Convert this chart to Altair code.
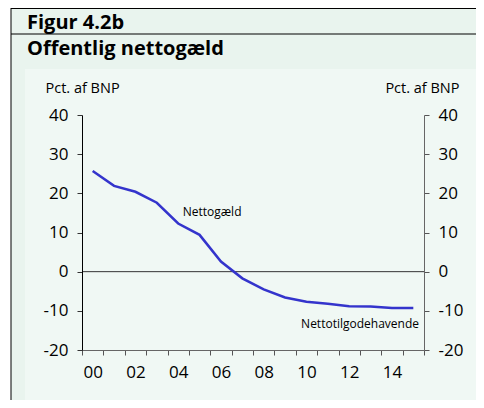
import altair as alt
import pandas as pd

# ---- data ----
years = list(range(2000, 2016))
nettogaeld = [25.7, 21.9, 20.4, 17.6, 12.3, 9.4, 2.6, -1.7, -4.5, -6.6,
              -7.7, -8.2, -8.8, -8.9, -9.3, -9.3]
y_ticks = [-20, -10, 0, 10, 20, 30, 40]
x_label_years = [2000, 2002, 2004, 2006, 2008, 2010, 2012, 2014]
x_tick_edges = [y - 0.5 for y in range(2000, 2017)]
title_lines = ["Figur 4.2b", "Offentlig nettogæld"]
axis_unit = "Pct. af BNP"
annotations = ["Nettogæld", "Nettotilgodehavende"]

df = pd.DataFrame({"year": years, "value": nettogaeld})
one = alt.Data(values=[{}])

FONT = "Open Sans"
OUTER = "#e9f4ee"
INNER = "#f0f8f4"

xscale = alt.Scale(domain=[1999.5, 2015.5], nice=False, zero=False)
yscale = alt.Scale(domain=[-20, 40], nice=False, zero=False)

# ---- background / frame decorations (pixel placed, relative to plot area) ----
outer = alt.Chart(one).mark_rect(color=OUTER).encode(
    x=alt.value(-71), x2=alt.value(402), y=alt.value(-107), y2=alt.value(293))
inner = alt.Chart(one).mark_rect(color=INNER).encode(
    x=alt.value(-57), x2=alt.value(399), y=alt.value(-46), y2=alt.value(293))
left_border = alt.Chart(one).mark_rule(color="black", strokeWidth=1).encode(
    x=alt.value(-71), y=alt.value(-107), y2=alt.value(293))
top_border = alt.Chart(one).mark_rule(color="black", strokeWidth=1).encode(
    x=alt.value(-71), x2=alt.value(402), y=alt.value(-106.5))
sep_border = alt.Chart(one).mark_rule(color="black", strokeWidth=1).encode(
    x=alt.value(-71), x2=alt.value(402), y=alt.value(-81))

title1 = alt.Chart(one).mark_text(
    text=title_lines[0], font=FONT, fontSize=20, fontWeight="bold",
    align="left", baseline="alphabetic", color="black").encode(
    x=alt.value(-55), y=alt.value(-86.5))
title2 = alt.Chart(one).mark_text(
    text=title_lines[1], font=FONT, fontSize=20, fontWeight="bold",
    align="left", baseline="alphabetic", color="black").encode(
    x=alt.value(-55), y=alt.value(-60.5))

# ---- data layers ----
zero_rule = alt.Chart(one).mark_rule(color="#333333", strokeWidth=1).encode(
    y=alt.datum(0, scale=yscale, axis=None))

common_axis = dict(labelFont=FONT, labelFontSize=17, labelColor="black",
                   titleFont=FONT, titleFontSize=14.5, titleColor="black",
                   titleFontWeight="normal", grid=False, zindex=1)

line = alt.Chart(df).mark_line(color="#3434cc", strokeWidth=2.5).encode(
    x=alt.X("year:Q", scale=xscale,
            axis=alt.Axis(values=x_tick_edges, labels=False, title=None,
                          orient="bottom", tickSize=5, tickColor="#555555",
                          domainColor="#666666", **common_axis)),
    y=alt.Y("value:Q", scale=yscale,
            axis=alt.Axis(values=y_ticks, orient="left", title=axis_unit,
                          titleAngle=0, titleX=-37, titleY=-23,
                          titleAlign="left", titleBaseline="alphabetic",
                          tickSize=5, tickColor="#333333", domainColor="black",
                          labelPadding=9, labelExpr="toString(datum.value)",
                          **common_axis)),
)

line2 = alt.Chart(df).mark_line(opacity=0).encode(
    x=alt.X("year:Q", scale=xscale,
            axis=alt.Axis(values=x_label_years, title=None, orient="bottom",
                          ticks=False, domain=False, labelPadding=14,
                          labelExpr="slice(toString(datum.value), 2)",
                          **common_axis)),
    y=alt.Y("value:Q", scale=yscale,
            axis=alt.Axis(values=y_ticks, orient="right", title=axis_unit,
                          titleAngle=0, titleX=35, titleY=-23,
                          titleAlign="right", titleBaseline="alphabetic",
                          tickSize=5, tickColor="#555555", domainColor="#666666",
                          labelPadding=9, labelExpr="toString(datum.value)",
                          **common_axis)),
)

ann1 = alt.Chart(one).mark_text(
    text=annotations[0], font=FONT, fontSize=12, align="left",
    baseline="alphabetic", color="black").encode(
    x=alt.value(100.7), y=alt.value(101))
ann2 = alt.Chart(one).mark_text(
    text=annotations[1], font=FONT, fontSize=12, align="right",
    baseline="alphabetic", color="black").encode(
    x=alt.value(337), y=alt.value(213))

chart = alt.layer(
    outer, inner, left_border, top_border, sep_border, title1, title2,
    zero_rule, line, line2, ann1, ann2
).resolve_axis(x="independent", y="independent").properties(
    width=342, height=235,
    padding={"left": 74, "top": 107, "right": 52, "bottom": 50},
    autosize=alt.AutoSizeParams(type="none"),
    background="white",
).configure_view(stroke=None)

chart.save("out.html", embed_options={"renderer": "svg", "actions": False})
